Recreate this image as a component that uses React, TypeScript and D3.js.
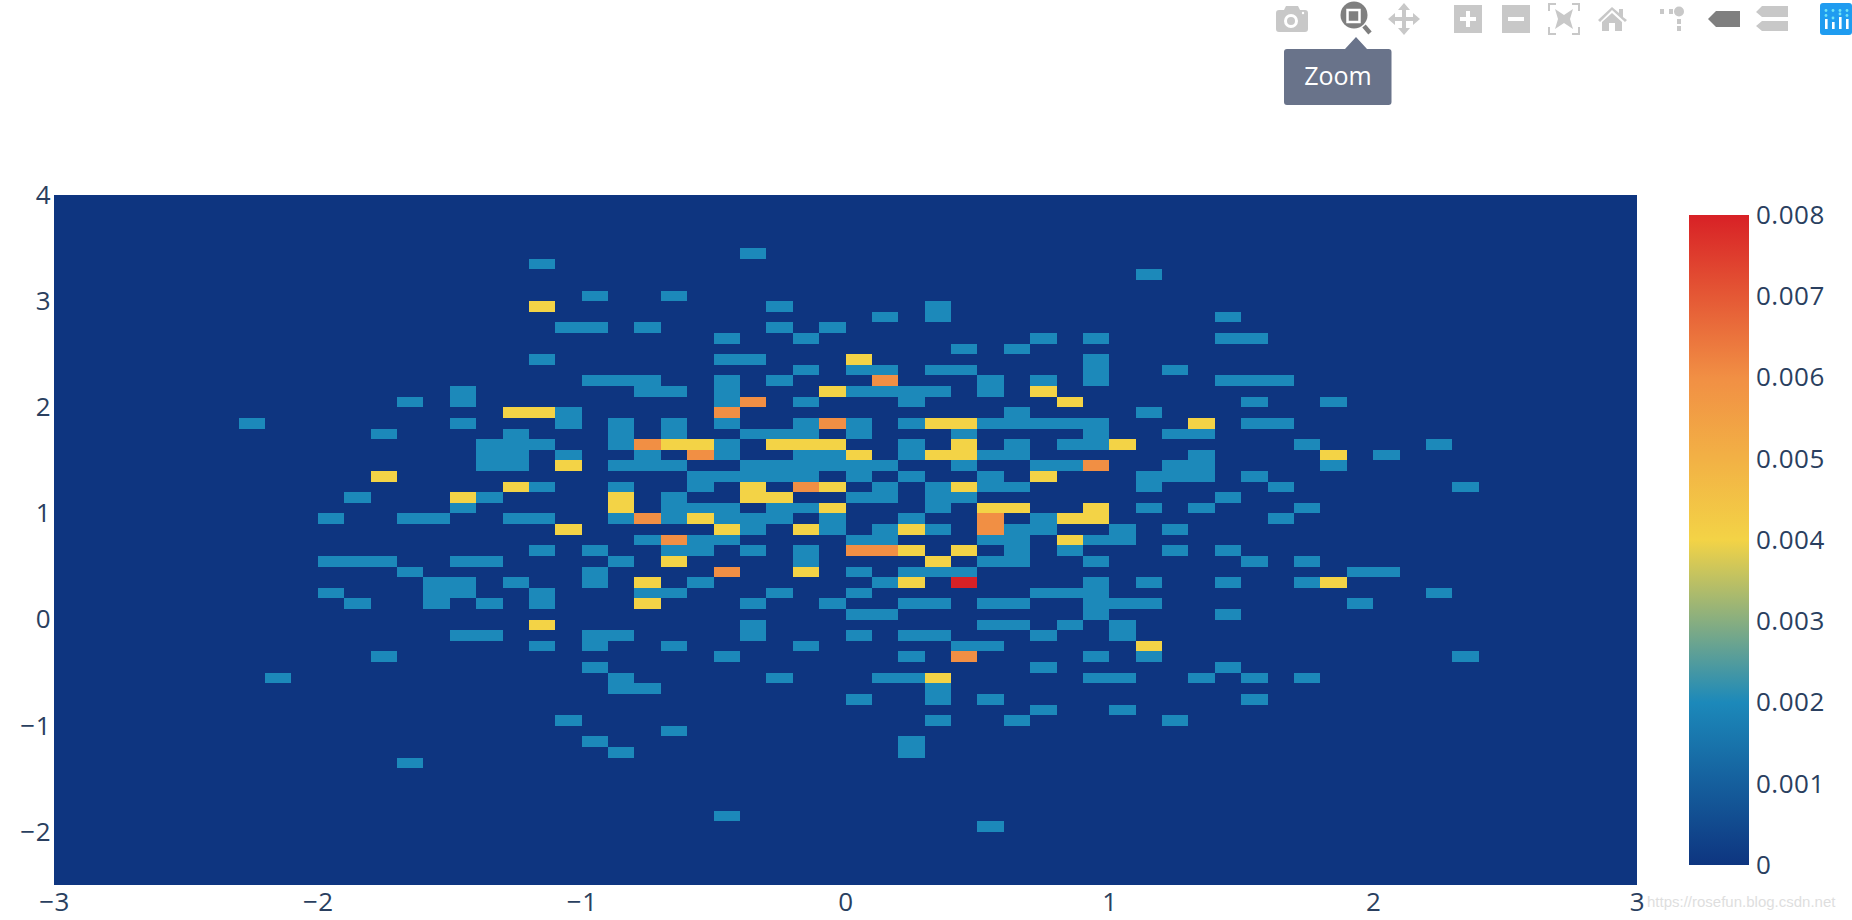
import React, { useEffect, useRef } from 'react';
import * as d3 from 'd3';

// one entry per y bin: [row counted from the top of the plot, x bin indexes]
const blueBins: [number, number[]][] = [
  [5, [26]], [6, [18]], [7, [41]], [9, [20, 23]], [10, [27, 33]], [11, [31, 33, 44]],
  [12, [19, 20, 22, 27, 29]], [13, [25, 28, 37, 39, 44, 45]], [14, [34, 36]],
  [15, [18, 25, 26, 39]], [16, [28, 30, 31, 33, 34, 39, 42]],
  [17, [20, 21, 22, 25, 27, 35, 37, 39, 44, 45, 46]],
  [18, [15, 22, 23, 25, 30, 31, 32, 33, 35]], [19, [13, 15, 25, 28, 32, 45, 48]],
  [20, [19, 36, 41]], [21, [7, 15, 19, 21, 23, 25, 28, 30, 32, 35, 36, 37, 38, 39, 45, 46]],
  [22, [12, 17, 21, 23, 26, 27, 28, 30, 34, 39, 42, 43]],
  [23, [16, 17, 18, 21, 25, 32, 36, 38, 39, 47, 52]],
  [24, [16, 17, 19, 22, 25, 28, 29, 32, 35, 36, 43, 50]],
  [25, [16, 17, 21, 22, 23, 26, 27, 28, 29, 30, 31, 34, 37, 38, 42, 43, 48]],
  [26, [24, 25, 26, 27, 28, 30, 32, 35, 41, 42, 43, 45]],
  [27, [18, 21, 24, 31, 33, 35, 36, 41, 46, 53]], [28, [11, 16, 23, 30, 31, 33, 34, 44]],
  [29, [15, 23, 24, 25, 27, 28, 33, 41, 43, 47]],
  [30, [10, 13, 14, 17, 18, 21, 23, 25, 26, 27, 29, 32, 37, 46]],
  [31, [26, 29, 31, 33, 36, 37, 40, 42]], [32, [22, 24, 25, 30, 31, 35, 36, 39, 40]],
  [33, [18, 20, 23, 24, 26, 28, 36, 38, 42, 44]],
  [34, [10, 11, 12, 15, 16, 21, 28, 35, 36, 39, 45, 47]],
  [35, [13, 20, 30, 32, 33, 34, 49, 50]], [36, [14, 15, 17, 20, 24, 31, 39, 41, 44, 47]],
  [37, [10, 14, 15, 18, 22, 23, 27, 30, 37, 38, 39, 52]],
  [38, [11, 14, 16, 18, 26, 29, 32, 33, 35, 36, 39, 40, 41, 49]], [39, [30, 31, 39, 44]],
  [40, [26, 35, 36, 38, 40]], [41, [15, 16, 20, 21, 26, 30, 32, 33, 37, 40]],
  [42, [18, 20, 23, 28, 34, 35]], [43, [12, 25, 32, 39, 41, 53]], [44, [20, 37, 44]],
  [45, [8, 21, 27, 31, 32, 39, 40, 43, 45, 47]], [46, [21, 22, 33]], [47, [30, 33, 35, 45]],
  [48, [37, 40]], [49, [19, 33, 36, 42]], [50, [23]], [51, [20, 32]], [52, [21, 32]],
  [53, [13]], [58, [25]], [59, [35]],
];

const yellowBins: [number, number[]][] = [
  [10, [18]], [15, [30]], [18, [29, 37]], [19, [38]], [20, [17, 18]], [21, [33, 34, 43]],
  [23, [23, 24, 27, 28, 29, 34, 40]], [24, [30, 33, 34, 48]], [25, [19]], [26, [12, 37]],
  [27, [17, 26, 29, 34]], [28, [15, 21, 26, 27]], [29, [21, 29, 35, 36, 39]],
  [30, [24, 38, 39]], [31, [19, 25, 28, 32]], [32, [38]], [33, [32, 34]], [34, [23, 33]],
  [35, [28]], [36, [22, 32, 48]], [38, [22]], [40, [18]], [42, [41]], [45, [33]],
];

const orangeBins: [number, number[]][] = [
  [17, [31]], [19, [26]], [20, [25]], [21, [29]], [23, [22]], [24, [24]], [25, [39]],
  [27, [28]], [30, [22, 35]], [31, [35]], [32, [23]], [33, [30, 31]], [35, [25]], [43, [34]],
];

const redBins: [number, number[]][] = [[36, [34]]];

const binLevels: [number, [number, number[]][]][] = [
  [0.002, blueBins], [0.004, yellowBins], [0.006, orangeBins], [0.008, redBins],
];

const xTicks = [-3, -2, -1, 0, 1, 2, 3];
const yTicks = [-2, -1, 0, 1, 2, 3, 4];
const barTicks = [0, 0.001, 0.002, 0.003, 0.004, 0.005, 0.006, 0.007, 0.008];
const colourStops = [0, 0.002, 0.004, 0.006, 0.008];
const colourRange = ['rgb(14,53,128)', 'rgb(28,137,186)', 'rgb(243,211,70)', 'rgb(241,143,68)', 'rgb(216,33,38)'];

const binSize = 0.1;
const tickColor = '#2a3f5f';
const iconLight = '#c8c8c8';
const iconDark = '#7f7f7f';

const App = () => {
  const ref = useRef<SVGSVGElement>(null);

  useEffect(() => {
    const svg = d3.select(ref.current);
    svg.selectAll('*').remove();

    const x = d3.scaleLinear().domain([-3, 3]).range([54, 1637]);
    const y = d3.scaleLinear().domain([-2.5, 4]).range([885, 195]);
    const colour = d3.scaleLinear<string>().domain(colourStops).range(colourRange);

    svg.append('rect')
      .attr('x', x(-3)).attr('y', y(4))
      .attr('width', x(3) - x(-3)).attr('height', y(-2.5) - y(4))
      .attr('fill', colour(0));

    const cells = binLevels.flatMap(([z, rows]) =>
      rows.flatMap(([row, cols]) =>
        cols.map(col => ({ x0: -3 + col * binSize, y1: 4 - row * binSize, z }))));

    svg.append('g').selectAll('rect')
      .data(cells)
      .enter()
      .append('rect')
        .attr('x', d => x(d.x0))
        .attr('y', d => y(d.y1))
        .attr('width', x(binSize) - x(0))
        .attr('height', y(0) - y(binSize))
        .attr('fill', d => colour(d.z))
        .attr('shape-rendering', 'crispEdges');

    const minus = (d: number) => (d < 0 ? `\u2212${-d}` : `${d}`);

    const xAxis = svg.append('g')
      .attr('transform', `translate(0, ${y(-2.5)})`)
      .call(d3.axisBottom(x).tickValues(xTicks).tickSize(0).tickPadding(8).tickFormat(minus as any));
    const yAxis = svg.append('g')
      .attr('transform', `translate(${x(-3)}, 0)`)
      .call(d3.axisLeft(y).tickValues(yTicks).tickSize(0).tickPadding(3).tickFormat(minus as any));

    /* Colour bar */

    const barScale = d3.scaleLinear().domain([0, 0.008]).range([865, 215]);
    const gradient = svg.append('defs').append('linearGradient')
      .attr('id', 'bar-gradient')
      .attr('x1', 0).attr('x2', 0).attr('y1', 1).attr('y2', 0);
    colourStops.forEach((s, i) => {
      gradient.append('stop').attr('offset', s / 0.008).attr('stop-color', colourRange[i]);
    });

    svg.append('rect')
      .attr('x', 1689).attr('y', barScale(0.008))
      .attr('width', 60).attr('height', barScale(0) - barScale(0.008))
      .attr('fill', 'url(#bar-gradient)');

    const barAxis = svg.append('g')
      .attr('transform', 'translate(1749, 0)')
      .call(d3.axisRight(barScale).tickValues(barTicks).tickSize(0).tickPadding(7)
        .tickFormat((d: any) => (d === 0 ? '0' : d.toFixed(3))));

    [xAxis, yAxis, barAxis].forEach(axis => {
      axis.select('.domain').remove();
      axis.selectAll('text')
        .attr('fill', tickColor)
        .style('font-family', '"Open Sans", sans-serif')
        .style('font-size', '26px')
        .style('letter-spacing', '0.5px');
    });
  }, []);

  return (
    <svg ref={ref} width={1852} height={920} style={{ position: 'absolute', left: 0, top: 0 }} />
  );
};

const ModeBar = () => (
  <svg width={1852} height={920} style={{ position: 'absolute', left: 0, top: 0 }}>
    {/* camera */}
    <path d="M1279 10h5l2-4h12l2 4h5q3 0 3 3v16q0 3-3 3h-26q-3 0-3-3v-16q0-3 3-3z" fill={iconLight} />
    <circle cx={1291} cy={21} r={5.5} fill={iconLight} stroke="#fff" strokeWidth={3} />
    <circle cx={1303} cy={13} r={1.2} fill="#fff" />
    {/* zoom */}
    <circle cx={1354} cy={15} r={13.5} fill={iconDark} />
    <rect x={1347.5} y={10} width={12} height={12} fill={iconDark} stroke="#fff" strokeWidth={2.5} />
    <line x1={1364} y1={26} x2={1370} y2={33} stroke={iconDark} strokeWidth={4.5} />
    {/* pan */}
    <path d="M1404 3l6 7h-4v7h7v-4l7 6-7 6v-4h-7v7h4l-6 7-6-7h4v-7h-7v4l-7-6 7-6v4h7v-7h-4z" fill={iconLight} />
    {/* zoom in, zoom out */}
    <rect x={1454} y={5} width={28} height={28} fill={iconLight} />
    <path d="M1466 11h4v6h6v4h-6v6h-4v-6h-6v-4h6z" fill="#fff" />
    <rect x={1502} y={5} width={28} height={28} fill={iconLight} />
    <rect x={1508} y={17} width={16} height={4} fill="#fff" />
    {/* autoscale */}
    <path d="M1556 4h-7v7M1572 4h7v7M1556 34h-7v-7M1572 34h7v-7" fill="none" stroke={iconLight} strokeWidth={2} />
    <path d="M1555 9l9 6 9-6-3 10 3 10-9-6-9 6 3-10z" fill={iconLight} />
    {/* home */}
    <path d="M1598 20l14-13 7 6v-4h4v8l4 3-2 2-13-12-12 12zM1602 22l10-9 10 9v9h-7v-8h-6v8h-7z" fill={iconLight} />
    {/* spikes */}
    <rect x={1660} y={9} width={4} height={5} fill={iconLight} />
    <rect x={1669} y={9} width={4} height={5} fill={iconLight} />
    <circle cx={1679} cy={11.5} r={5} fill={iconLight} />
    <rect x={1677} y={19} width={4} height={5} fill={iconLight} />
    <rect x={1677} y={26} width={4} height={5} fill={iconLight} />
    {/* hover */}
    <path d="M1708 19l8-8h24v16h-24z" fill={iconDark} />
    <path d="M1756 12l6-6h26v11h-26zM1756 26l6-5h26v10h-26z" fill={iconLight} />
    {/* logo */}
    <rect x={1820} y={3} width={32} height={32} rx={3} fill="#1f9cf0" />
    {[1825, 1832, 1839, 1846].map((bx, i) => (
      <g key={bx}>
        <circle cx={bx + 1} cy={10.5} r={1.4} fill="#6fe3f5" />
        <rect x={bx} y={[19, 22, 17, 19][i]} width={2.6} height={[10, 7, 12, 10][i]} fill="#fff" />
        <circle cx={bx + 1} cy={[15.5, 18, 14, 15.5][i]} r={1.4} fill="#6fe3f5" />
      </g>
    ))}
    {/* tooltip */}
    <path d="M1287 49h58l11-12 11 12h21.5q3 0 3 3v50q0 3-3 3h-101.500q-3 0-3-3v-50q0-3 3-3z" fill="#69738a" />
    <text x={1338} y={85} textAnchor="middle" fill="#fff" style={{ fontFamily: '"Open Sans", sans-serif', fontSize: 25 }}>Zoom</text>
    {/* watermark */}
    <text x={1647} y={907} fill="#dedede" style={{ fontFamily: '"Liberation Sans", sans-serif', fontSize: 15 }}>https://rosefun.blog.csdn.net</text>
  </svg>
);

const Page = () => (
  <div>
    <App />
    <ModeBar />
  </div>
);

export default Page;
